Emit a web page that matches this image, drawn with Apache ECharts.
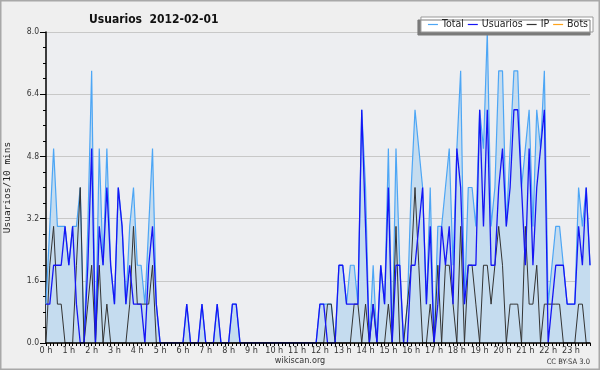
<!DOCTYPE html>
<html>
<head>
<meta charset="utf-8">
<script src="https://cdn.jsdelivr.net/npm/echarts@6/dist/echarts.min.js"></script>
<style>
  html, body { margin: 0; padding: 0; background: #f0f0f0; }
  #chart { width: 600px; height: 370px; }
</style>
</head>
<body>
<div id="chart"></div>
<script>
// hour tick labels, one every 6 slots of 10 minutes
const hourLabels = ["0 h","1 h","2 h","3 h","4 h","5 h","6 h","7 h","8 h","9 h","10 h","11 h",
    "12 h","13 h","14 h","15 h","16 h","17 h","18 h","19 h","20 h","21 h","22 h","23 h"];
const yTicks = [0, 1.6, 3.2, 4.8, 6.4, 8.0];

// =========================
// values per 10 minutes (144 slots)
// =========================
const usuarios = [
    1,1,2,2,2,3, 2,3,1,0,0,2, 5,0,3,2,4,2, 1,4,3,1,2,1,   // 0h-3h
    1,1,0,2,3,1, 0,0,0,0,0,0, 0,1,0,0,0,1, 0,0,0,1,0,0,   // 4h-7h
    0,1,1,0,0,0, 0,0,0,0,0,0, 0,0,0,0,0,0, 0,0,0,0,0,0,   // 8h-11h
    1,1,0,0,0,2, 2,1,1,1,1,6, 3,0,1,0,2,1, 4,0,2,2,0,0,   // 12h-15h
    2,2,3,4,1,3, 0,1,3,2,3,1, 5,4,1,2,2,2, 6,3,6,2,2,4,   // 16h-19h
    5,3,4,6,6,4, 2,5,2,4,5,6, 0,1,2,2,2,1, 1,1,3,2,4,2    // 20h-23h
];
const ip = [
    0,2,3,1,1,0, 0,0,2,4,0,1, 2,0,2,0,1,0, 0,0,0,0,1,3,
    1,1,1,1,2,0, 0,0,0,0,0,0, 0,0,0,0,0,0, 0,0,0,0,0,0,
    0,0,0,0,0,0, 0,0,0,0,0,0, 0,0,0,0,0,0, 0,0,0,0,0,0,
    0,0,1,1,0,0, 0,0,0,1,1,0, 1,0,1,0,0,0, 1,0,3,0,0,1,
    2,4,2,0,0,1, 0,2,0,2,2,1, 0,3,0,2,2,1, 0,2,2,1,2,3,
    2,0,1,1,1,0, 3,1,1,2,0,1, 1,1,1,1,0,0, 0,0,1,1,0,0
];
const total = [
    1,3,5,3,3,3, 2,3,3,4,0,3, 7,0,5,2,5,2, 1,4,3,1,3,4,
    2,2,1,3,5,1, 0,0,0,0,0,0, 0,1,0,0,0,1, 0,0,0,1,0,0,
    0,1,1,0,0,0, 0,0,0,0,0,0, 0,0,0,0,0,0, 0,0,0,0,0,0,
    1,1,1,1,0,2, 2,1,2,2,1,6, 4,0,2,0,2,1, 5,0,5,2,0,1,
    4,6,5,4,1,4, 0,3,3,4,5,2, 5,7,1,4,4,3, 6,5,8,3,4,7,
    7,3,5,7,7,4, 5,6,3,6,5,7, 1,2,3,3,2,1, 1,1,4,3,4,2
];
const bots = [
    0,0,0,0,0,0, 0,0,0,0,0,0, 0,0,0,0,0,0, 0,0,0,0,0,0,
    0,0,0,0,0,0, 0,0,0,0,0,0, 0,0,0,0,0,0, 0,0,0,0,0,0,
    0,0,0,0,0,0, 0,0,0,0,0,0, 0,0,0,0,0,0, 0,0,0,0,0,0,
    0,0,0,0,0,0, 0,0,0,0,0,0, 0,0,0,0,0,0, 0,0,0,0,0,0,
    0,0,0,0,0,0, 0,0,0,0,0,0, 0,0,0,0,0,0, 0,0,0,0,0,0,
    0,0,0,0,0,0, 0,0,0,0,0,0, 0,0,0,0,0,0, 0,0,0,0,0,0
];

// slot names "H:MM"
const slots = [];
for (let h = 0; h < hourLabels.length; h++) {
    for (let m = 0; m < 60; m += 10) slots.push(h + ":" + String(m).padStart(2, "0"));
}

const FONT = "DejaVu Sans Condensed, DejaVu Sans";

const chart = echarts.init(document.getElementById("chart"));

chart.setOption({
    backgroundColor: "#efefef",
    animation: false,
    textStyle: { fontFamily: FONT },

    title: {
        text: "Usuarios  2012-02-01",
        left: 84,
        top: 9,
        textStyle: { fontSize: 12, fontWeight: "bold", color: "#111", fontFamily: FONT }
    },

    legend: {
        right: 7,
        top: 17,
        data: ["Total", "Usuarios", "IP", "Bots"],
        icon: "rect",
        itemWidth: 10,
        itemHeight: 1.2,
        itemGap: 4,
        padding: [2, 5, 2, 7],
        backgroundColor: "#fff",
        borderColor: "#999",
        borderWidth: 1,
        shadowColor: "#7a7a7a",
        shadowBlur: 0,
        shadowOffsetX: -3,
        shadowOffsetY: 3,
        textStyle: { fontSize: 10.5, color: "#222", fontFamily: FONT, padding: [0, 0, 0, -1] }
    },

    grid: {
        left: 46, right: 10, top: 32, bottom: 27,
        outerBoundsMode: "none",
        show: true, backgroundColor: "#edeef1", borderWidth: 0
    },

    xAxis: {
        type: "category",
        data: slots,
        boundaryGap: false,
        z: 10,
        axisLine: { lineStyle: { color: "#000", width: 1.5 } },
        axisTick: { interval: 0, length: 3, lineStyle: { color: "#000" } },
        axisLabel: {
            interval: 5,
            margin: 3,
            fontSize: 9,
            color: "#333",
            fontFamily: FONT,
            formatter: (v, idx) => hourLabels[Math.floor(idx / 6)]
        },
        splitLine: { show: false }
    },

    yAxis: {
        type: "value",
        min: 0,
        max: 8,
        interval: 1.6,
        name: "Usuarios/10 mins",
        nameLocation: "middle",
        nameRotate: 90,
        nameGap: 33,
        nameTextStyle: { fontFamily: "DejaVu Sans Mono", fontSize: 9.5, color: "#222" },
        axisLine: { show: true, lineStyle: { color: "#000", width: 1.5 } },
        axisTick: { show: true, length: 6, lineStyle: { color: "#000" } },
        minorTick: { show: true, splitNumber: 4, length: 3, lineStyle: { color: "#000" } },
        axisLabel: {
            fontSize: 8.5,
            color: "#333",
            margin: 7,
            fontFamily: FONT,
            formatter: v => yTicks.some(t => Math.abs(t - v) < 1e-6) ? v.toFixed(1) : ""
        },
        splitLine: { lineStyle: { color: "#c8c8c8", width: 1 } }
    },

    series: [
        {
            name: "Total",
            type: "line",
            data: total,
            symbol: "none",
            color: "#4da6f5",
            lineStyle: { width: 1.2, color: "#4da6f5" },
            areaStyle: { color: "#c5dcef", opacity: 1 },
            z: 2
        },
        {
            name: "Usuarios",
            type: "line",
            data: usuarios,
            symbol: "none",
            color: "#1515f5",
            lineStyle: { width: 1.3, color: "#1515f5" },
            z: 4
        },
        {
            name: "IP",
            type: "line",
            data: ip,
            symbol: "none",
            color: "#333",
            lineStyle: { width: 1, color: "#333" },
            z: 3
        },
        {
            name: "Bots",
            type: "line",
            data: bots,
            symbol: "none",
            color: "#ffa31a",
            lineStyle: { width: 1, color: "#ffa31a" },
            z: 1
        }
    ],

    graphic: [
        {
            type: "rect",
            shape: { x: 0.5, y: 0.5, width: 599, height: 369 },
            style: { fill: "none", stroke: "#a8a8a8", lineWidth: 2 },
            z: 100
        },
        {
            type: "text",
            left: "center",
            top: 356,
            style: { text: "wikiscan.org", fontSize: 9, fill: "#333", fontFamily: FONT }
        },
        {
            type: "text",
            right: 10,
            top: 358,
            style: { text: "CC BY-SA 3.0", fontSize: 7.5, fill: "#333", fontFamily: FONT }
        }
    ]
});
</script>
</body>
</html>
